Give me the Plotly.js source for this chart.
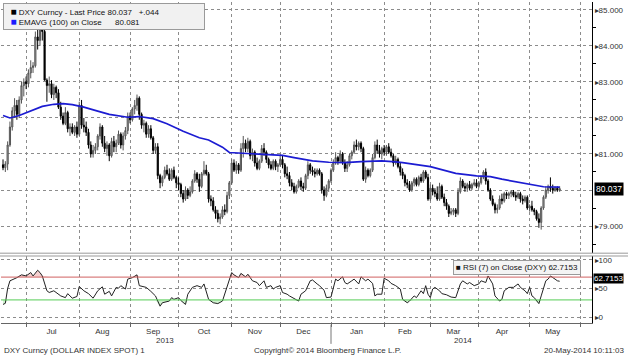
<!DOCTYPE html>
<html>
<head>
<meta charset="utf-8">
<script src="https://cdn.plot.ly/plotly-3.0.1.min.js"></script>
<style>html,body{margin:0;padding:0;background:#fff;}#chart{width:628px;height:357px;}</style>
</head>
<body>
<div id="chart"></div>
<script>
// ---- trading days (x categories) ----
const dates = [
"2013-06-17","2013-06-18","2013-06-19","2013-06-20","2013-06-21","2013-06-24","2013-06-25","2013-06-26","2013-06-27","2013-06-28",
"2013-07-01","2013-07-02","2013-07-03","2013-07-04","2013-07-05","2013-07-08","2013-07-09","2013-07-10","2013-07-11","2013-07-12","2013-07-15","2013-07-16","2013-07-17","2013-07-18","2013-07-19","2013-07-22","2013-07-23","2013-07-24","2013-07-25","2013-07-26","2013-07-29","2013-07-30","2013-07-31",
"2013-08-01","2013-08-02","2013-08-05","2013-08-06","2013-08-07","2013-08-08","2013-08-09","2013-08-12","2013-08-13","2013-08-14","2013-08-15","2013-08-16","2013-08-19","2013-08-20","2013-08-21","2013-08-22","2013-08-23","2013-08-26","2013-08-27","2013-08-28","2013-08-29","2013-08-30",
"2013-09-02","2013-09-03","2013-09-04","2013-09-05","2013-09-06","2013-09-09","2013-09-10","2013-09-11","2013-09-12","2013-09-13","2013-09-16","2013-09-17","2013-09-18","2013-09-19","2013-09-20","2013-09-23","2013-09-24","2013-09-25","2013-09-26","2013-09-27","2013-09-30",
"2013-10-01","2013-10-02","2013-10-03","2013-10-04","2013-10-07","2013-10-08","2013-10-09","2013-10-10","2013-10-11","2013-10-14","2013-10-15","2013-10-16","2013-10-17","2013-10-18","2013-10-21","2013-10-22","2013-10-23","2013-10-24","2013-10-25","2013-10-28","2013-10-29","2013-10-30","2013-10-31",
"2013-11-01","2013-11-04","2013-11-05","2013-11-06","2013-11-07","2013-11-08","2013-11-11","2013-11-12","2013-11-13","2013-11-14","2013-11-15","2013-11-18","2013-11-19","2013-11-20","2013-11-21","2013-11-22","2013-11-25","2013-11-26","2013-11-27","2013-11-28","2013-11-29",
"2013-12-02","2013-12-03","2013-12-04","2013-12-05","2013-12-06","2013-12-09","2013-12-10","2013-12-11","2013-12-12","2013-12-13","2013-12-16","2013-12-17","2013-12-18","2013-12-19","2013-12-20","2013-12-23","2013-12-24","2013-12-25","2013-12-26","2013-12-27","2013-12-30","2013-12-31",
"2014-01-01","2014-01-02","2014-01-03","2014-01-06","2014-01-07","2014-01-08","2014-01-09","2014-01-10","2014-01-13","2014-01-14","2014-01-15","2014-01-16","2014-01-17","2014-01-20","2014-01-21","2014-01-22","2014-01-23","2014-01-24","2014-01-27","2014-01-28","2014-01-29","2014-01-30","2014-01-31",
"2014-02-03","2014-02-04","2014-02-05","2014-02-06","2014-02-07","2014-02-10","2014-02-11","2014-02-12","2014-02-13","2014-02-14","2014-02-17","2014-02-18","2014-02-19","2014-02-20","2014-02-21","2014-02-24","2014-02-25","2014-02-26","2014-02-27","2014-02-28",
"2014-03-03","2014-03-04","2014-03-05","2014-03-06","2014-03-07","2014-03-10","2014-03-11","2014-03-12","2014-03-13","2014-03-14","2014-03-17","2014-03-18","2014-03-19","2014-03-20","2014-03-21","2014-03-24","2014-03-25","2014-03-26","2014-03-27","2014-03-28","2014-03-31",
"2014-04-01","2014-04-02","2014-04-03","2014-04-04","2014-04-07","2014-04-08","2014-04-09","2014-04-10","2014-04-11","2014-04-14","2014-04-15","2014-04-16","2014-04-17","2014-04-18","2014-04-21","2014-04-22","2014-04-23","2014-04-24","2014-04-25","2014-04-28","2014-04-29","2014-04-30",
"2014-05-01","2014-05-02","2014-05-05","2014-05-06","2014-05-07","2014-05-08","2014-05-09","2014-05-12","2014-05-13","2014-05-14","2014-05-15","2014-05-16","2014-05-19","2014-05-20"
];

// ---- DXY daily OHLC ----
const open = [
80.70,80.62,80.72,81.25,81.75,82.20,82.35,82.10,82.50,82.90,
83.00,82.95,83.25,83.40,83.45,84.25,84.15,84.55,84.40,83.05,
82.90,82.95,82.65,82.85,82.70,82.30,82.05,81.85,82.15,81.70,
81.75,81.60,81.75,81.55,82.35,81.80,81.75,81.60,81.25,81.00,
81.10,81.20,81.50,81.75,81.30,81.15,81.25,80.95,81.35,81.20,
81.30,81.55,81.25,81.50,81.65,82.05,81.95,82.25,82.35,82.55,
82.10,81.80,81.85,81.55,81.70,81.45,81.10,81.20,80.40,80.20,
80.35,80.55,80.45,80.30,80.55,80.35,80.20,80.15,79.90,79.75,
80.00,79.85,79.95,80.25,80.45,80.30,80.10,80.45,80.55,80.45,
79.75,79.70,79.45,79.35,79.20,79.25,79.45,79.40,79.85,80.20,
80.75,80.55,80.70,80.55,81.15,81.30,81.15,81.35,80.95,81.05,
80.75,80.60,80.80,81.15,81.05,80.85,80.70,80.60,80.80,80.65,
80.70,80.85,80.70,80.45,80.40,80.20,80.10,79.95,80.10,80.25,
80.10,80.05,80.40,80.70,80.55,80.50,80.45,80.55,80.45,80.00,
79.85,80.05,80.25,80.55,80.75,80.90,80.80,81.00,80.75,80.60,
80.70,80.95,81.05,81.25,81.20,81.30,81.15,80.30,80.55,80.40,
80.55,80.90,81.25,81.10,81.00,81.15,81.05,81.20,81.05,80.95,
80.75,80.85,80.65,80.50,80.40,80.20,80.15,80.00,80.20,80.30,
80.15,80.35,80.25,80.50,80.35,79.75,80.05,79.95,79.90,79.75,
80.10,79.80,79.65,79.55,79.35,79.40,79.45,79.35,79.95,80.25,
80.10,80.05,80.15,80.05,80.15,80.20,80.10,80.20,80.35,80.50,
80.25,80.00,79.75,79.60,79.45,79.50,79.75,79.70,79.90,79.85,
79.90,79.95,79.85,79.80,79.90,79.75,79.70,79.80,79.50,79.55,
79.45,79.40,79.20,79.10,79.50,79.80,80.00,80.10,80.05,80.00,
80.05,79.993];
const high = [
80.85,80.80,81.35,81.90,82.30,82.55,82.50,82.60,83.00,83.10,
83.15,83.35,83.60,83.55,84.40,84.45,84.75,84.78,84.45,83.10,
83.15,83.05,82.95,82.90,82.80,82.45,82.15,82.30,82.20,81.85,
81.85,81.80,81.90,82.45,82.50,82.00,81.90,81.70,81.35,81.25,
81.30,81.55,81.85,81.80,81.50,81.35,81.30,81.45,81.50,81.40,
81.65,81.60,81.60,81.75,82.15,82.15,82.30,82.50,82.65,82.60,
82.15,81.95,81.90,81.80,81.80,81.50,81.30,81.30,80.45,80.40,
80.65,80.70,80.60,80.60,80.65,80.40,80.35,80.20,80.00,80.10,
80.05,80.10,80.30,80.55,80.50,80.45,80.50,80.80,80.70,80.50,
79.85,79.80,79.55,79.45,79.35,79.55,79.60,79.95,80.25,80.85,
80.85,80.80,80.75,81.30,81.50,81.40,81.45,81.40,81.15,81.10,
80.90,80.85,81.25,81.30,81.10,80.90,80.80,80.85,80.85,80.75,
80.95,80.95,80.75,80.65,80.50,80.30,80.20,80.15,80.30,80.35,
80.20,80.45,80.80,80.75,80.65,80.60,80.60,80.60,80.50,80.10,
80.15,80.30,80.60,80.85,81.05,80.95,81.10,81.05,80.85,80.80,
81.00,81.10,81.35,81.40,81.35,81.35,81.20,80.65,80.60,80.60,
81.00,81.35,81.40,81.25,81.20,81.25,81.25,81.30,81.15,81.00,
80.95,80.90,80.75,80.60,80.45,80.30,80.25,80.25,80.35,80.35,
80.40,80.45,80.55,80.55,80.45,80.15,80.15,80.05,80.10,80.20,
80.15,79.90,79.75,79.60,79.50,79.50,79.50,80.05,80.35,80.30,
80.20,80.20,80.25,80.20,80.30,80.30,80.25,80.40,80.55,80.60,
80.30,80.05,79.85,79.65,79.60,79.85,79.90,79.95,79.95,79.95,
80.00,80.00,79.95,79.95,79.95,79.85,79.85,79.85,79.60,79.70,
79.50,79.45,79.35,79.55,79.85,80.10,80.15,80.35,80.15,80.10,
80.10,80.10];
const low = [
80.55,80.50,80.55,81.20,81.65,82.00,81.95,82.00,82.40,82.60,
82.80,82.85,83.10,83.25,83.40,83.90,84.00,84.15,83.20,82.45,
82.70,82.55,82.50,82.55,82.25,81.95,81.80,81.80,81.60,81.50,
81.55,81.50,81.45,81.50,81.70,81.60,81.50,81.15,80.90,80.90,
81.00,81.10,81.40,81.20,81.05,80.95,80.80,80.90,81.05,81.05,
81.25,81.15,81.10,81.40,81.55,81.85,81.90,82.10,82.20,81.95,
81.70,81.60,81.45,81.45,81.40,81.00,81.00,80.30,80.05,80.10,
80.30,80.40,80.25,80.25,80.30,80.05,80.00,79.80,79.65,79.70,
79.75,79.80,79.90,80.20,80.20,79.95,80.05,80.40,80.40,79.65,
79.55,79.40,79.20,79.10,79.05,79.20,79.30,79.35,79.75,80.15,
80.50,80.45,80.45,80.50,80.90,81.05,81.05,80.85,80.80,80.65,
80.55,80.55,80.75,80.95,80.75,80.60,80.55,80.55,80.55,80.50,
80.65,80.60,80.35,80.30,80.10,80.00,79.90,79.90,80.05,80.00,
79.95,80.00,80.30,80.45,80.40,80.35,80.40,80.40,79.90,79.70,
79.80,79.95,80.20,80.50,80.70,80.70,80.75,80.70,80.50,80.50,
80.65,80.85,81.00,81.10,81.10,81.05,80.25,80.20,80.35,80.35,
80.50,80.85,81.00,80.90,80.85,80.95,80.95,81.00,80.90,80.65,
80.70,80.60,80.40,80.30,80.10,80.05,79.95,79.95,80.10,80.10,
80.10,80.20,80.20,80.30,79.70,79.70,79.85,79.80,79.70,79.70,
79.75,79.55,79.45,79.25,79.30,79.30,79.25,79.30,79.90,80.05,
79.95,79.95,80.00,80.00,80.10,80.05,80.05,80.15,80.30,80.15,
79.95,79.70,79.55,79.35,79.35,79.45,79.60,79.65,79.75,79.75,
79.80,79.80,79.70,79.75,79.65,79.60,79.65,79.45,79.40,79.40,
79.30,79.15,78.95,78.90,79.45,79.75,79.90,79.95,79.90,79.95,
79.95,79.95];
const close = [
80.62,80.72,81.25,81.75,82.20,82.35,82.10,82.50,82.90,83.00,
82.95,83.25,83.40,83.45,84.25,84.15,84.55,84.40,83.05,82.90,
82.95,82.65,82.85,82.70,82.30,82.05,81.85,82.15,81.70,81.75,
81.60,81.75,81.55,82.35,81.80,81.75,81.60,81.25,81.00,81.10,
81.20,81.50,81.75,81.30,81.15,81.25,80.95,81.35,81.20,81.30,
81.55,81.25,81.50,81.65,82.05,81.95,82.25,82.35,82.55,82.10,
81.80,81.85,81.55,81.70,81.45,81.10,81.20,80.40,80.20,80.35,
80.55,80.45,80.30,80.55,80.35,80.20,80.15,79.90,79.75,80.00,
79.85,79.95,80.25,80.45,80.30,80.10,80.45,80.55,80.45,79.75,
79.70,79.45,79.35,79.20,79.25,79.45,79.40,79.85,80.20,80.75,
80.55,80.70,80.55,81.15,81.30,81.15,81.35,80.95,81.05,80.75,
80.60,80.80,81.15,81.05,80.85,80.70,80.60,80.80,80.65,80.70,
80.85,80.70,80.45,80.40,80.20,80.10,79.95,80.10,80.25,80.10,
80.05,80.40,80.70,80.55,80.50,80.45,80.55,80.45,80.00,79.85,
80.05,80.25,80.55,80.75,80.90,80.80,81.00,80.75,80.60,80.70,
80.95,81.05,81.25,81.20,81.30,81.15,80.30,80.55,80.40,80.55,
80.90,81.25,81.10,81.00,81.15,81.05,81.20,81.05,80.95,80.75,
80.85,80.65,80.50,80.40,80.20,80.15,80.00,80.20,80.30,80.15,
80.35,80.25,80.50,80.35,79.75,80.05,79.95,79.90,79.75,80.10,
79.80,79.65,79.55,79.35,79.40,79.45,79.35,79.95,80.25,80.10,
80.05,80.15,80.05,80.15,80.20,80.10,80.20,80.35,80.50,80.25,
80.00,79.75,79.60,79.45,79.50,79.75,79.70,79.90,79.85,79.90,
79.95,79.85,79.80,79.90,79.75,79.70,79.80,79.50,79.55,79.45,
79.40,79.20,79.10,79.50,79.80,80.00,80.10,80.05,80.00,80.05,
79.993,80.037];
const netChange = "+.044";

// ---- EMAVG(100) read at sample days (index into dates) ----
const emaIdx = [0,3,7,13,17,22,26,30,35,41,46,54,59,65,71,78,83,85,89,95,98,105,112,121,126,134,141,148,155,164,170,173,185,196,205,211,216,225,234,241];
const emaVal = [82.07,82.00,82.07,82.21,82.32,82.38,82.40,82.37,82.30,82.19,82.10,82.02,82.04,81.98,81.84,81.63,81.50,81.45,81.39,81.19,81.04,81.02,81.00,80.96,80.90,80.81,80.77,80.76,80.79,80.81,80.78,80.76,80.65,80.46,80.39,80.37,80.30,80.20,80.09,80.081];

// ---- RSI(7) read at sample days ----
const rsiIdx = [0,1,2,3,6,8,10,12,13,15,16,17,19,20,22,24,25,27,28,30,31,32,33,35,37,39,41,43,44,46,47,49,50,51,53,54,56,57,58,59,62,64,66,68,69,72,73,74,76,77,79,80,82,84,86,87,89,91,93,95,97,98,99,100,102,103,105,106,108,110,111,113,114,116,117,118,120,121,123,124,126,128,129,131,133,134,136,137,139,140,142,144,145,147,148,149,151,152,154,155,157,158,160,161,162,164,165,167,168,170,172,173,175,176,178,179,181,182,183,184,185,186,187,189,190,192,194,196,198,199,201,202,204,206,207,209,210,212,213,215,216,217,219,221,223,224,226,227,228,229,230,232,233,235,236,237,239,240,241];
const rsiVal = [22,24,50,63.5,69,74,72,78,72,82,78,72,46,43,46,40,37,34,41,33,35,36,53.5,46,41,33,46,53,40,45,37,52,50.5,55,49,66.5,69,72,74,55,52,45,37,19,25,28,34,31,34,29,22,40,52,55,52,58,31,25,23.5,28,52,63.5,78,74,69,76.5,70.5,75,63.5,60.5,55,63.5,52,55,49,52,55,43,40,37,33,28,40,46,63.5,65,58,55,47,34,35,66.5,63.5,70.5,60.5,58,63.5,66.5,58,70.5,63.5,66.5,59,37,40,40,68,63.5,59,55,49,31,25,28,37,34,46,41,55,40,34,49,52,46,41,39,35,34,58,63.5,58,60.5,55,58,63.5,60.5,72,58,37,28,31,46,52,52,58,52,46,41,52,37,34,23.5,37,63.5,66.5,72,66.5,63.5,62.7153];
const rsiHigh = 70, rsiLow = 30;

// ---- axis ticks ----
const gridDates = ["2013-07-01","2013-08-01","2013-09-02","2013-10-01","2013-11-01","2013-12-02","2014-01-01","2014-02-03","2014-03-03","2014-04-01","2014-05-01","2014-06-02"];
const labelDates = ["2013-07-16","2013-08-15","2013-09-16","2013-10-16","2013-11-15","2013-12-16","2014-01-16","2014-02-14","2014-03-17","2014-04-15","2014-05-15"];
const monthLabels = ["Jul","Aug","Sep","Oct","Nov","Dec","Jan","Feb","Mar","Apr","May"];
const yearLabels = ["2013","2014"];
const yearLabelDates = ["2013-09-23","2014-03-21"];
const priceTicks = [79,80,81,82,83,84,85];
const priceTickText = ["\u25B879.000","","\u25B881.000","\u25B882.000","\u25B883.000","\u25B884.000","\u25B885.000"];
const rsiTicks = [0,50,100];
const xRange = ["2013-06-14 03:00","2014-06-09"];

const FONT = "Liberation Sans, Arial, sans-serif";
const GRID = "#8c8c8c";

const rsiX = rsiIdx.map(i=>dates[i]);
const traces = [
  {type:"candlestick", x:dates, open:open, high:high, low:low, close:close,
   xaxis:"x", yaxis:"y", whiskerwidth:0, hoverinfo:"skip", showlegend:false,
   increasing:{line:{color:"#555555",width:1}, fillcolor:"#b0b0b0"},
   decreasing:{line:{color:"#000000",width:1}, fillcolor:"#000000"}},
  {type:"scatter", mode:"lines", x:emaIdx.map(i=>dates[i]), y:emaVal,
   xaxis:"x", yaxis:"y", line:{color:"#1c1cd2",width:1.7}, hoverinfo:"skip", showlegend:false},
  // oversold shading (below 30)
  {type:"scatter", mode:"lines", x:rsiX, y:rsiX.map(()=>rsiLow), xaxis:"x2", yaxis:"y2",
   line:{width:0,color:"rgba(0,0,0,0)"}, hoverinfo:"skip", showlegend:false},
  {type:"scatter", mode:"lines", x:rsiX, y:rsiVal.map(v=>Math.min(v,rsiLow)), xaxis:"x2", yaxis:"y2",
   line:{width:0,color:"rgba(0,0,0,0)"}, fill:"tonexty", fillcolor:"rgba(120,215,120,0.35)", hoverinfo:"skip", showlegend:false},
  // overbought shading (above 70)
  {type:"scatter", mode:"lines", x:rsiX, y:rsiX.map(()=>rsiHigh), xaxis:"x2", yaxis:"y2",
   line:{width:0,color:"rgba(0,0,0,0)"}, hoverinfo:"skip", showlegend:false},
  {type:"scatter", mode:"lines", x:rsiX, y:rsiVal.map(v=>Math.max(v,rsiHigh)), xaxis:"x2", yaxis:"y2",
   line:{width:0,color:"rgba(0,0,0,0)"}, fill:"tonexty", fillcolor:"rgba(225,120,120,0.35)", hoverinfo:"skip", showlegend:false},
  {type:"scatter", mode:"lines", x:rsiX, y:rsiVal,
   xaxis:"x2", yaxis:"y2", line:{color:"#222222",width:1}, hoverinfo:"skip", showlegend:false}
];

const xCommon = {type:"date", range:xRange, rangebreaks:[{bounds:["sat","mon"]}],
  zeroline:false, fixedrange:true};

const fmt3 = v => v.toFixed(3);
const lastClose = close[close.length-1];
const lastEma = emaVal[emaVal.length-1];
const lastRsi = rsiVal[rsiVal.length-1];

const layout = {
  width:628, height:357,
  margin:{l:1, r:36, t:2, b:34},
  paper_bgcolor:"#ffffff", plot_bgcolor:"#ffffff",
  font:{family:FONT, size:8, color:"#222"},
  showlegend:false,
  xaxis: Object.assign({}, xCommon, {anchor:"y", tickmode:"array", tickvals:gridDates,
    showticklabels:false, ticks:"", showgrid:true, gridcolor:GRID, griddash:"dot", gridwidth:1,
    rangeslider:{visible:false}}),
  xaxis2: Object.assign({}, xCommon, {anchor:"y2", matches:"x", tickmode:"array",
    tickvals:labelDates, ticktext:monthLabels, showgrid:false, ticks:"",
    tickfont:{family:FONT, size:8, color:"#333"},
    showline:true, linecolor:"#666", linewidth:1,
    minor:{tickmode:"array", tickvals:gridDates, showgrid:true, gridcolor:GRID, griddash:"dot",
      ticks:"outside", ticklen:3, tickcolor:"#666"}}),
  yaxis: {domain:[0.218,1], anchor:"x", side:"right", range:[78.25,85.22],
    tickmode:"array", tickvals:priceTicks, ticktext:priceTickText,
    showgrid:true, gridcolor:GRID, griddash:"dot", gridwidth:1, zeroline:false,
    showline:true, linecolor:"#000", linewidth:1, ticks:"",
    minor:{tickmode:"linear", tick0:78.5, dtick:1, ticks:"outside", ticklen:3, tickcolor:"#000", showgrid:false},
    tickfont:{family:FONT, size:8, color:"#333"}, fixedrange:true},
  yaxis2: {domain:[0,0.2087], anchor:"x2", side:"right", range:[-10.5,107],
    tickmode:"array", tickvals:rsiTicks, ticktext:rsiTicks.map(v=>"\u25B8"+v),
    showgrid:true, gridcolor:GRID, griddash:"dot", gridwidth:1, zeroline:false,
    showline:true, linecolor:"#000", linewidth:1, ticks:"",
    tickfont:{family:FONT, size:8, color:"#333"}, fixedrange:true},
  shapes:[
    {type:"line", xref:"x2 domain", x0:0, x1:1, yref:"y2", y0:rsiHigh, y1:rsiHigh, line:{color:"#d06060",width:1}},
    {type:"line", xref:"x2 domain", x0:0, x1:1, yref:"y2", y0:rsiLow, y1:rsiLow, line:{color:"#55cc55",width:1}},
    {type:"rect", xref:"paper", x0:-0.01, x1:1.07, yref:"paper", y0:0.2087, y1:0.2175, line:{color:"#999",width:1}, fillcolor:"rgba(0,0,0,0)"},
    {type:"line", xref:"x2", x0:"2014-01-01", x1:"2014-01-01", yref:"paper", y0:-0.005, y1:-0.065, line:{color:"#777",width:1}}
  ],
  annotations:[
    {xref:"paper", yref:"paper", x:0.0034, y:0.997, xanchor:"left", yanchor:"top", align:"left",
     width:196, showarrow:false, bgcolor:"#f1f1f1", bordercolor:"#9a9a9a", borderwidth:1, borderpad:2,
     font:{family:FONT, size:8, color:"#111"},
     text:"&nbsp;&nbsp;<span style='color:#000;font-size:10px'>\u25A0</span> DXY Curncy - Last Price "+fmt3(lastClose)+"&nbsp;&nbsp;&nbsp;"+netChange+"<br>&nbsp;&nbsp;<span style='color:#1c1cff;font-size:10px'>\u25A0</span> EMAVG (100) on Close&nbsp;&nbsp;&nbsp;&nbsp;&nbsp;&nbsp;"+fmt3(lastEma)},
    {xref:"paper", yref:"paper", x:0.765, y:0.196, xanchor:"left", yanchor:"top", align:"left",
     showarrow:false, bgcolor:"#f4f4f4", bordercolor:"#9a9a9a", borderwidth:1, borderpad:2,
     font:{family:FONT, size:8, color:"#111"},
     text:"\u25A0 RSI (7) on Close (DXY) "+lastRsi.toFixed(4)},
    {xref:"paper", yref:"y", x:1, y:lastClose, xanchor:"left", yanchor:"middle", xshift:2,
     showarrow:false, bgcolor:"#000", borderpad:1, font:{family:FONT, size:8.5, color:"#fff"},
     text:fmt3(lastClose)},
    {xref:"paper", yref:"y2", x:1, y:lastRsi, xanchor:"left", yanchor:"middle", xshift:1, yshift:3,
     showarrow:false, bgcolor:"#000", borderpad:0, font:{family:FONT, size:8, color:"#fff"},
     text:lastRsi.toFixed(4)},
    {xref:"x2", yref:"paper", x:yearLabelDates[0], y:-0.056, xanchor:"center", yanchor:"middle",
     showarrow:false, font:{family:FONT, size:8, color:"#333"}, text:yearLabels[0]},
    {xref:"x2", yref:"paper", x:yearLabelDates[1], y:-0.056, xanchor:"center", yanchor:"middle",
     showarrow:false, font:{family:FONT, size:8, color:"#333"}, text:yearLabels[1]},
    {xref:"paper", yref:"paper", x:0.002, y:-0.086, xanchor:"left", yanchor:"middle",
     showarrow:false, font:{family:FONT, size:8, color:"#333"}, text:"DXY Curncy (DOLLAR INDEX SPOT) 1"},
    {xref:"paper", yref:"paper", x:0.552, y:-0.086, xanchor:"center", yanchor:"middle",
     showarrow:false, font:{family:FONT, size:8, color:"#333"}, text:"Copyright\u00A9 2014 Bloomberg Finance L.P."},
    {xref:"paper", yref:"paper", x:1.057, y:-0.086, xanchor:"right", yanchor:"middle",
     showarrow:false, font:{family:FONT, size:8, color:"#333"}, text:"20-May-2014 10:11:03"}
  ]
};

Plotly.newPlot("chart", traces, layout, {staticPlot:true, displayModeBar:false});
</script>
</body>
</html>
